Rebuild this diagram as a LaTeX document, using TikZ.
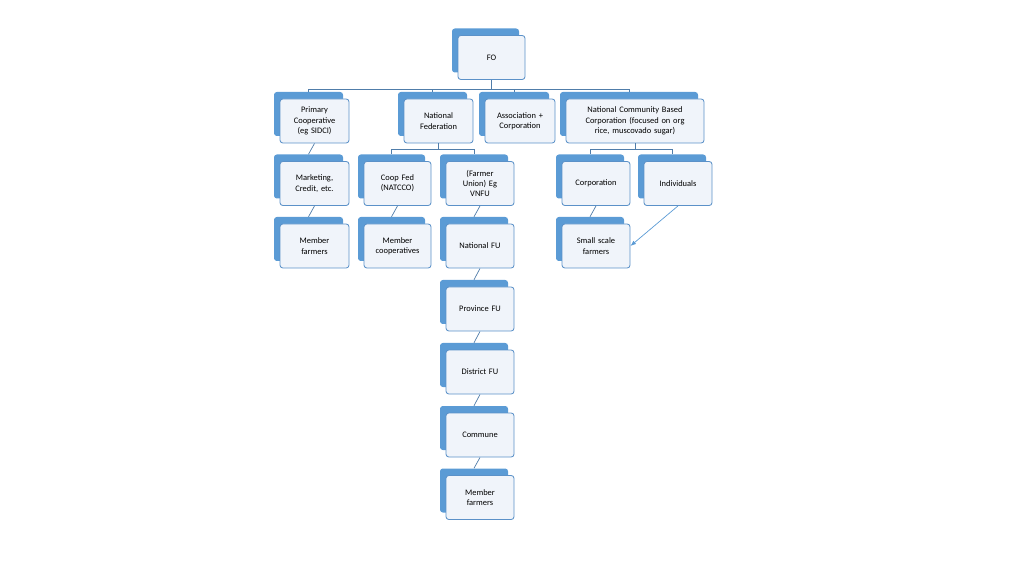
\documentclass[tikz,border=0pt]{standalone}
\usepackage{fontspec}
\setmainfont{Carlito}
\usetikzlibrary{arrows.meta}
\definecolor{backblue}{RGB}{91,155,213}
\definecolor{edgeblue}{RGB}{91,145,200}
\definecolor{frontfill}{RGB}{240,244,250}
\definecolor{linec}{RGB}{80,125,170}
\tikzset{
  x=0.025cm,y=-0.025cm,
  backbox/.style={draw=none,fill=backblue,rounded corners=2pt,minimum width=#1*0.025cm,minimum height=44*0.025cm,inner sep=0pt},
  frontbox/.style={draw=edgeblue,line width=0.6pt,fill=frontfill,rounded corners=2pt,minimum width=#1*0.025cm,minimum height=44*0.025cm,inner sep=1pt,align=center,font=\fontsize{6}{7.3}\selectfont,text width=(#1-6)*0.025cm},
  conn/.style={draw=linec,line width=0.5pt}
}
\newcommand{\bx}[5]{%
  \node[backbox=#4] (b#1) at (#2-6,#3-7) {};
  \node[frontbox=#4] (#1) at (#2,#3) {#5};}
\begin{document}
\begin{tikzpicture}
\useasboundingbox (0,0) rectangle (1024,576);
\bx{fo}{491.5}{57.5}{67}{FO}
\bx{pc}{314.5}{121}{69}{Primary\\Cooperative\\(eg SIDCI)}
\bx{nf}{438.5}{121}{69}{National\\Federation}
\bx{ac}{520}{121}{70}{Association +\\Corporation}
\bx{nc}{635}{121}{138}{National Community Based\\Corporation (focused on org\\rice, muscovado sugar)}
\bx{mk}{314.5}{183.5}{69}{Marketing,\\Credit, etc.}
\bx{cf}{397.5}{183.5}{67}{Coop Fed\\(NATCCO)}
\bx{fu}{480}{183.5}{68}{(Farmer\\Union) Eg\\VNFU}
\bx{co}{596}{183.5}{68}{Corporation}
\bx{in}{678}{183.5}{68}{Individuals}
\bx{mf}{314.5}{246}{69}{Member\\farmers}
\bx{mc}{397.5}{246}{67}{Member\\cooperatives}
\bx{nfu}{480}{246}{68}{National FU}
\bx{ss}{596}{246}{68}{Small scale\\farmers}
\bx{pfu}{480}{309}{68}{Province FU}
\bx{dfu}{480}{372}{68}{District FU}
\bx{cm}{480}{435}{68}{Commune}
\bx{mf2}{480}{497.5}{68}{Member\\farmers}
% connectors
\draw[conn] (fo.south) -- ++(0,9) coordinate (j0);
\foreach \t in {pc,nf,ac,nc}{\draw[conn] (j0) -| (b\t.north);}
\draw[conn] (nf.south) -- ++(0,6) coordinate (j1);
\foreach \t in {cf,fu}{\draw[conn] (j1) -| (b\t.north);}
\draw[conn] (nc.south) -- ++(0,6) coordinate (j2);
\foreach \t in {co,in}{\draw[conn] (j2) -| (b\t.north);}
\draw[conn] (pc.south) -- (bmk.north);
\draw[conn] (mk.south) -- (bmf.north);
\draw[conn] (cf.south) -- (bmc.north);
\draw[conn] (fu.south) -- (bnfu.north);
\draw[conn] (nfu.south) -- (bpfu.north);
\draw[conn] (pfu.south) -- (bdfu.north);
\draw[conn] (dfu.south) -- (bcm.north);
\draw[conn] (cm.south) -- (bmf2.north);
\draw[conn] (co.south) -- (bss.north);
\draw[conn,-{Latex[length=4pt,width=3pt]},draw=backblue] (in.south) -- (ss.east);
\end{tikzpicture}
\end{document}
